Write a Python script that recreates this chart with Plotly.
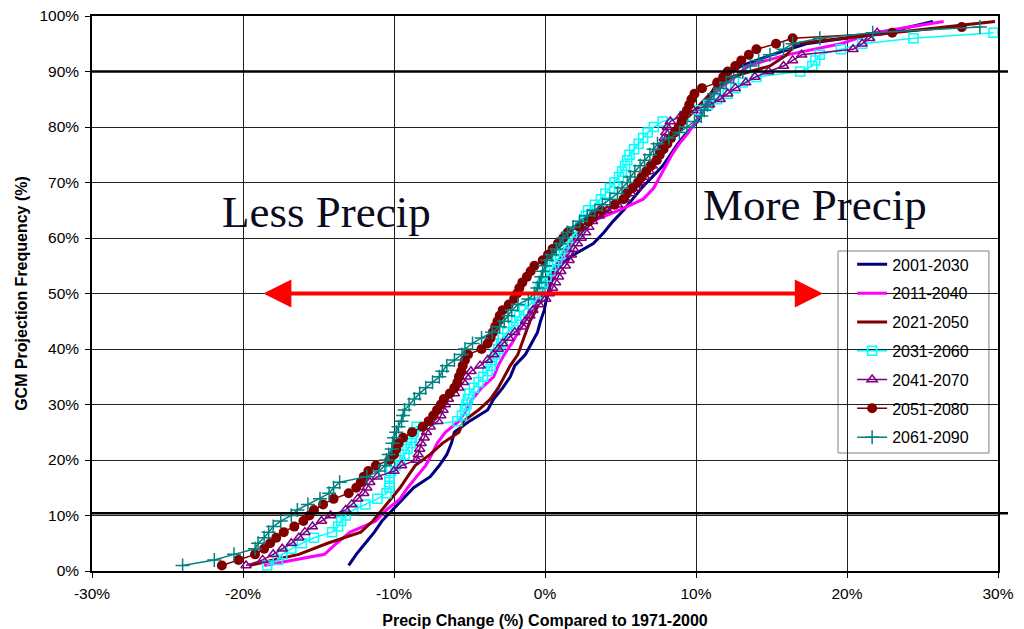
import plotly.graph_objects as go

# ---------------- data ----------------
SERIES_NAMES = ["2001-2030", "2011-2040", "2021-2050", "2031-2060",
                "2041-2070", "2051-2080", "2061-2090"]

# frequency levels (%) for the plain-line series
Y_LINES = [1, 3, 5, 7, 9, 11, 13, 15, 17, 19, 21, 23, 25, 27, 29, 31, 33, 35, 37, 39,
           41, 43, 45, 47, 49, 51, 53, 55, 57, 59, 61, 63, 65, 67, 69, 71, 73, 75, 77, 79,
           81, 83, 85, 87, 89, 91, 93, 95, 97, 99]

X_2001_2030 = [-13.0, -12.5, -11.9, -11.3, -10.8, -10.1, -9.4, -8.7, -7.6, -7.0,
               -6.5, -6.2, -6.0, -5.0, -3.8, -3.4, -2.8, -2.3, -2.0, -1.3,
               -0.9, -0.5, -0.3, -0.05, 0.1, 0.3, 0.5, 0.9, 1.9, 3.2,
               3.9, 4.5, 5.2, 5.8, 6.4, 7.1, 7.8, 8.3, 8.8, 9.4,
               10.1, 10.5, 10.8, 11.2, 11.8, 13.0, 15.0, 17.3, 22.5, 25.7]

X_2011_2040 = [-18.6, -14.6, -13.8, -12.9, -11.2, -10.5, -9.6, -9.1, -8.5, -7.9,
               -7.5, -7.15, -6.6, -5.7, -5.2, -4.8, -4.2, -3.4, -3.1, -2.7,
               -2.2, -1.8, -1.35, -0.9, -0.4, 0.0, 0.45, 0.9, 1.35, 1.8,
               2.3, 3.1, 4.9, 6.5, 7.2, 7.6, 8.0, 8.4, 8.9, 9.5,
               10.0, 10.4, 10.9, 11.6, 12.6, 13.4, 16.0, 19.6, 21.8, 26.4]

X_2021_2050 = [-19.6, -16.3, -14.4, -12.2, -11.4, -10.8, -10.2, -9.6, -9.1, -8.6,
               -7.6, -6.8, -5.7, -5.4, -4.4, -3.6, -3.1, -2.7, -2.3, -1.8,
               -1.55, -1.3, -1.0, -0.6, -0.3, 0.0, 0.3, 0.7, 1.1, 1.6,
               2.2, 3.2, 4.2, 5.0, 5.7, 6.4, 7.0, 7.5, 8.0, 8.6,
               9.2, 9.9, 10.6, 11.3, 12.3, 14.9, 16.0, 16.6, 23.0, 29.8]

Y_2031_2060 = [1, 2, 3, 4, 5, 6, 7, 8, 9, 10, 11, 12, 13, 14, 15, 16, 17, 18, 19, 20,
               21, 22, 23, 24, 25, 26, 27, 28, 29, 30, 31, 32, 33, 34, 35, 36, 37, 38, 39, 40,
               41, 42, 43, 44, 45, 46, 47, 48, 49, 50, 51, 52, 53, 54, 55, 56, 57, 58, 59, 60,
               61, 62, 63, 64, 65, 66, 67, 68, 69, 70, 71, 72, 73, 74, 75, 76, 77, 78, 79, 80,
               81, 82, 83, 84, 85, 86, 87, 88, 89, 90, 91, 92, 93, 94, 95, 96, 97]
X_2031_2060 = [-18.4, -17.7, -17.4, -16.8, -16.1, -15.3, -14.1, -13.7, -13.5, -13.2,
               -12.7, -11.9, -11.1, -10.5, -10.3, -10.3, -10.3, -10.2, -9.9, -9.6,
               -9.3, -9.1, -8.9, -8.8, -8.7, -8.5, -5.8, -5.5, -5.3, -5.2,
               -5.1, -5.0, -4.7, -4.4, -4.1, -3.8, -3.6, -3.5, -3.3, -3.1,
               -2.9, -2.8, -2.5, -2.1, -1.9, -1.7, -1.4, -1.0, -0.6, -0.4,
               -0.3, -0.15, 0.1, 0.4, 0.6, 0.8, 1.0, 1.25, 1.5, 1.8,
               2.1, 2.35, 2.55, 2.7, 2.85, 3.3, 3.7, 4.0, 4.3, 4.6,
               4.9, 5.1, 5.3, 5.45, 5.6, 5.9, 6.2, 6.5, 6.8, 7.2,
               7.8, 9.2, 10.2, 10.8, 11.4, 12.1, 12.6, 13.1, 14.0, 16.9,
               17.7, 17.9, 18.2, 19.6, 21.0, 24.4, 29.7]

Y_2041_2070 = [1, 2, 3, 4, 5, 6, 7, 8, 9, 10, 11, 12, 13, 14, 15, 16, 17, 18, 19, 20,
               21, 22, 23, 24, 25, 26, 27, 28, 29, 30, 31, 32, 33, 34, 35, 36, 37, 38, 39, 40,
               41, 42, 43, 44, 45, 46, 47, 48, 49, 50, 51, 52, 53, 54, 55, 56, 57, 58, 59, 60,
               61, 62, 63, 64, 65, 66, 67, 68, 69, 70, 71, 72, 73, 74, 75, 76, 77, 78, 79, 80,
               81, 82, 83, 84, 85, 86, 87, 88, 89, 90, 91, 92, 93, 94, 95, 96, 97]
X_2041_2070 = [-19.8, -18.7, -18.0, -17.4, -16.8, -16.3, -15.9, -15.4, -14.8, -14.2,
               -13.2, -12.8, -12.4, -12.0, -11.8, -11.6, -11.1, -10.0, -9.5, -8.5,
               -8.4, -8.3, -8.2, -8.0, -7.85, -7.6, -7.1, -6.9, -6.75, -6.6,
               -6.4, -6.0, -5.7, -5.4, -5.2, -4.9, -4.3, -3.8, -3.4, -3.1,
               -2.8, -2.4, -2.0, -1.5, -1.3, -1.0, -0.8, -0.4, 0.05, 0.3,
               0.5, 0.7, 0.9, 1.05, 1.35, 1.6, 1.75, 1.9, 2.15, 2.4,
               2.7, 2.9, 3.15, 3.6, 4.1, 4.8, 5.3, 5.7, 6.05, 6.3,
               6.6, 6.9, 7.1, 7.3, 7.5, 7.65, 7.8, 7.9, 8.0, 8.1,
               8.3, 9.0, 9.8, 10.9, 11.6, 12.1, 12.6, 13.3, 13.9, 14.8,
               15.8, 16.4, 17.0, 20.4, 21.0, 21.5, 22.0]

Y_2051_2080 = [1, 2, 3, 4, 5, 6, 7, 8, 9, 10, 11, 12, 13, 14, 15, 16, 17, 18, 19, 20,
               21, 22, 23, 24, 25, 26, 27, 28, 29, 30, 31, 32, 33, 34, 35, 36, 37, 38, 39, 40,
               41, 42, 43, 44, 45, 46, 47, 48, 49, 50, 51, 52, 53, 54, 55, 56, 57, 58, 59, 60,
               61, 62, 63, 64, 65, 66, 67, 68, 69, 70, 71, 72, 73, 74, 75, 76, 77, 78, 79, 80,
               81, 82, 83, 84, 85, 86, 87, 88, 89, 90, 91, 92, 93, 94, 95, 96, 97, 98]
X_2051_2080 = [-21.4, -20.3, -19.2, -18.6, -18.2, -17.8, -17.3, -16.6, -16.0, -15.6,
               -15.3, -14.7, -14.0, -13.0, -12.5, -12.2, -12.0, -11.7, -11.2, -10.3,
               -10.0, -9.85, -9.7, -9.4, -8.8, -8.1, -7.7, -7.4, -7.15, -6.9,
               -6.7, -6.3, -6.0, -5.8, -5.7, -5.55, -5.45, -5.3, -5.1, -4.2,
               -3.8, -3.6, -3.45, -3.3, -3.15, -3.0, -2.8, -2.4, -2.05, -1.85,
               -1.7, -1.5, -1.2, -0.95, -0.7, -0.15, 0.2, 0.5, 0.85, 1.2,
               1.5, 2.3, 2.9, 3.2, 3.7, 4.6, 5.2, 5.4, 5.8, 6.15,
               6.4, 6.7, 7.0, 7.4, 7.6, 7.85, 8.1, 8.35, 8.6, 8.85,
               9.05, 9.2, 9.4, 9.55, 9.7, 9.9, 10.4, 11.4, 11.8, 12.1,
               12.6, 13.0, 13.5, 14.0, 15.3, 16.4, 23.0, 27.6]

Y_2061_2090 = [1, 2, 3, 4, 5, 6, 7, 8, 9, 10, 11, 12, 13, 14, 15, 16, 17, 18, 19, 20,
               21, 22, 23, 24, 25, 26, 27, 28, 29, 30, 31, 32, 33, 34, 35, 36, 37, 38, 39, 40,
               41, 42, 43, 44, 45, 46, 47, 48, 49, 50, 51, 52, 53, 54, 55, 56, 57, 58, 59, 60,
               61, 62, 63, 64, 65, 66, 67, 68, 69, 70, 71, 72, 73, 74, 75, 76, 77, 78, 79, 80,
               81, 82, 83, 84, 85, 86, 87, 88, 89, 90, 91, 92, 93, 94, 95, 96, 97, 98]
X_2061_2090 = [-24.0, -21.9, -20.6, -19.2, -19.0, -18.6, -18.3, -18.0, -17.5, -16.8,
               -16.4, -15.7, -14.9, -14.3, -14.0, -13.6, -11.8, -11.0, -10.6, -10.5,
               -10.35, -10.15, -10.1, -10.0, -9.85, -9.7, -9.5, -9.4, -9.3, -9.0,
               -8.65, -8.3, -7.9, -7.45, -7.0, -6.8, -6.5, -6.0, -5.5, -5.3,
               -4.8, -4.2, -3.5, -3.0, -2.7, -2.45, -2.2, -1.8, -1.1, -0.7,
               -0.5, -0.38, -0.25, -0.15, 0.0, 0.13, 0.45, 0.75, 1.0, 1.2,
               1.5, 1.85, 2.3, 2.8, 3.3, 3.8, 4.3, 4.8, 5.1, 5.45,
               5.65, 5.95, 6.3, 6.6, 6.95, 7.2, 7.45, 8.2, 8.9, 9.4,
               9.9, 10.35, 10.55, 10.75, 10.95, 11.2, 11.6, 12.0, 12.5, 13.1,
               13.6, 14.15, 14.9, 15.8, 16.4, 18.2, 21.7, 28.8]

X_TICKS = [-30, -20, -10, 0, 10, 20, 30]
Y_TICKS = [0, 10, 20, 30, 40, 50, 60, 70, 80, 90, 100]
REF_LINES = [90, 10.4]          # bold horizontal reference lines (%)
ARROW_LEFT, ARROW_RIGHT, ARROW_Y = -18.75, 18.4, 50

# ---------------- styling ----------------
SANS = "Liberation Sans, Arial, sans-serif"
SERIF = "Liberation Serif, Times New Roman, serif"

fig = go.Figure()

def add(name, xs, ys, color, width, symbol=None, msize=0, mline=1.5):
    mode = "lines" if symbol is None else "lines+markers"
    marker = None
    if symbol is not None:
        marker = dict(symbol=symbol, size=msize, color=color,
                      line=dict(color=color, width=mline))
    fig.add_trace(go.Scatter(x=xs, y=ys, name=name, mode=mode,
                             line=dict(color=color, width=width),
                             marker=marker, legendgroup=name))

add(SERIES_NAMES[0], X_2001_2030, Y_LINES, "#000080", 3)
add(SERIES_NAMES[1], X_2011_2040, Y_LINES, "#FF00FF", 3)
add(SERIES_NAMES[2], X_2021_2050, Y_LINES, "#800000", 3)
add(SERIES_NAMES[3], X_2031_2060, Y_2031_2060, "#00FFFF", 1.5, "square-open", 9, 1.5)
add(SERIES_NAMES[4], X_2041_2070, Y_2041_2070, "#800080", 1.5, "triangle-up-open", 9, 1.5)
add(SERIES_NAMES[5], X_2051_2080, Y_2051_2080, "#800000", 1.5, "circle", 10, 0)
add(SERIES_NAMES[6], X_2061_2090, Y_2061_2090, "#008080", 1.5, "cross-thin-open", 10, 1.5)

shapes = []
# white text boxes (hide grid lines)
for (x0, x1, y0, y1) in [(0.1192, 0.4636, 0.573, 0.7135), (0.6512, 0.9669, 0.5838, 0.7261)]:
    shapes.append(dict(type="rect", xref="paper", yref="paper", x0=x0, x1=x1, y0=y0, y1=y1,
                       fillcolor="white", line=dict(width=0), layer="between"))
# bold reference lines
for v in REF_LINES:
    shapes.append(dict(type="line", xref="paper", yref="y", x0=0, x1=1.011, y0=v, y1=v,
                       line=dict(color="black", width=2.5), layer="above"))
# legend box
shapes.append(dict(type="rect", xref="paper", yref="paper", x0=0.8234, x1=0.99, y0=0.2126, y1=0.5766,
                   fillcolor="white", line=dict(color="#808080", width=1), layer="between"))

annotations = [
    dict(text="Less Precip", xref="paper", yref="paper", x=0.2583, y=0.647, showarrow=False,
         font=dict(family=SERIF, size=45, color="#0b0b1e"), xanchor="center", yanchor="middle"),
    dict(text="More Precip", xref="paper", yref="paper", x=0.798, y=0.659, showarrow=False,
         font=dict(family=SERIF, size=45, color="#0b0b1e"), xanchor="center", yanchor="middle"),
    dict(x=ARROW_RIGHT, y=ARROW_Y, ax=ARROW_LEFT, ay=ARROW_Y, xref="x", yref="y",
         axref="x", ayref="y", text="", showarrow=True, arrowside="end+start",
         arrowhead=2, arrowsize=1.4, arrowwidth=4, arrowcolor="#FF0000"),
]

axis_common = dict(showgrid=True, gridcolor="#202020", gridwidth=1, showline=True,
                   linecolor="black", linewidth=1.5, mirror=True, ticks="outside",
                   ticklen=5, tickcolor="black", zeroline=False, automargin=False,
                   ticklabelstandoff=3, ticklabeloverflow="allow",
                   tickfont=dict(family=SANS, size=15.5, color="black"))

# page body has an 8px offset: figure is sized to fill the rest of the window
fig.update_layout(
    width=1016, height=621,
    margin=dict(l=84, r=26, t=8, b=58),
    paper_bgcolor="white", plot_bgcolor="white",
    shapes=shapes, annotations=annotations,
    xaxis=dict(range=[-30, 30], tickvals=X_TICKS, ticktext=[f"{v}%" for v in X_TICKS],
               title=dict(text="<b>Precip Change (%) Compared to 1971-2000</b>",
                          font=dict(family=SANS, size=16, color="black"), standoff=14),
               **axis_common),
    yaxis=dict(range=[0, 100], tickvals=Y_TICKS, ticktext=[f"{v}%" for v in Y_TICKS],
               title=dict(text="<b>GCM Projection Frequency (%)</b>",
                          font=dict(family=SANS, size=16, color="black"), standoff=8),
               **axis_common),
    showlegend=True,
    legend=dict(x=0.839, y=0.583, xanchor="left", yanchor="top",
                bgcolor="rgba(0,0,0,0)", borderwidth=0, tracegroupgap=5,
                font=dict(family=SANS, size=16, color="black"), itemwidth=30),
)

fig.write_html("out.html")
